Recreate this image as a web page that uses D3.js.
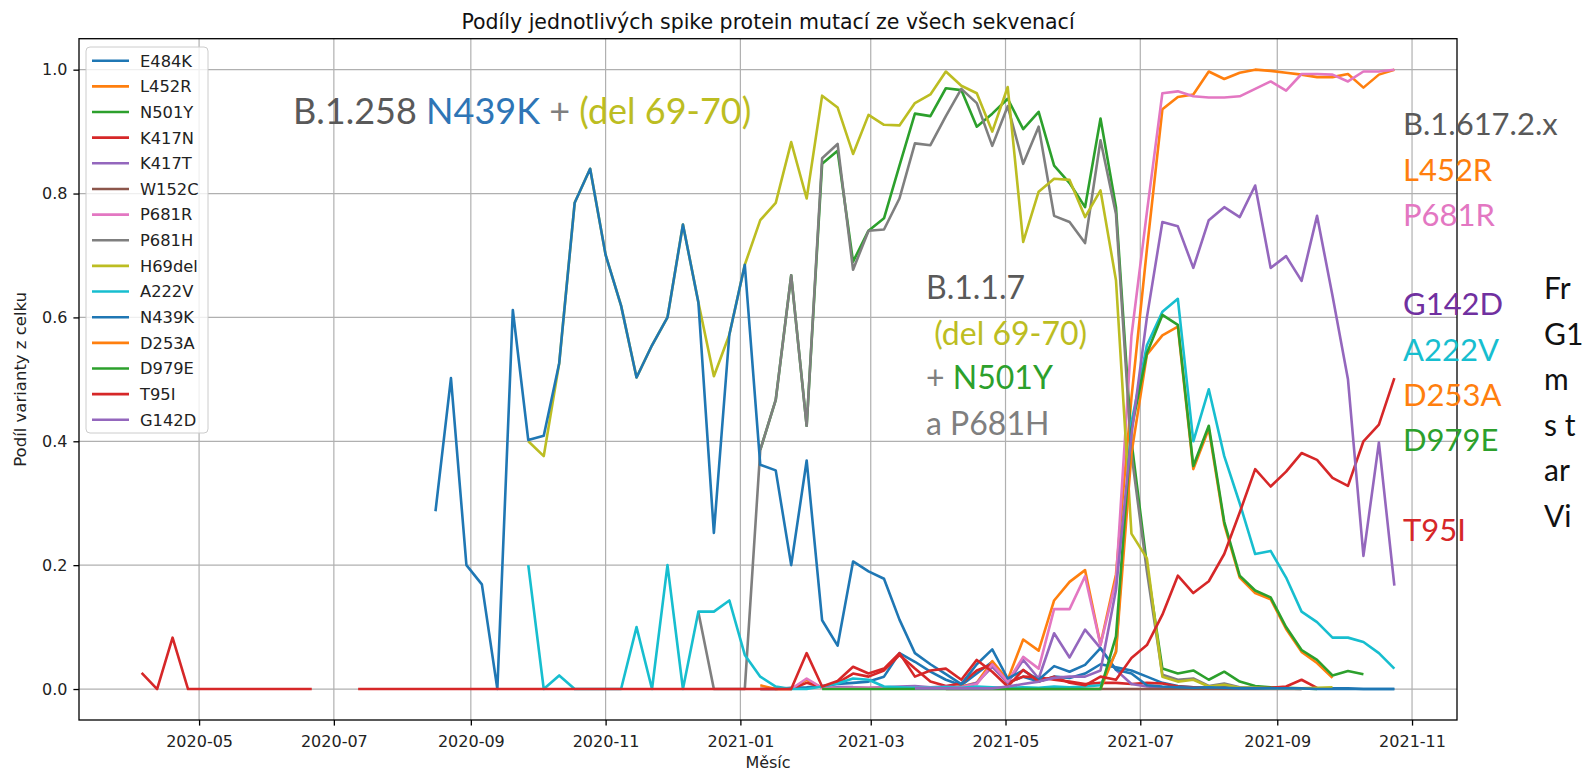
<!DOCTYPE html>
<html>
<head>
<meta charset="utf-8">
<script src="https://cdn.jsdelivr.net/npm/d3@7"></script>
<style>
  body { margin: 0; background: #fff; }
  .tick text { font-family: "DejaVu Sans", sans-serif; font-size: 16px; fill: #222; }
  .note { font-family: Lato, "Open Sans", sans-serif; }
</style>
</head>
<body>
<div id="chart"></div>
<script>
// 1. Data: weekly shares, one array per mutation (starts at the week index in startWeek)
const firstWeek = "2020-04-05";
const weekCount = 82;

const seriesNames = ["E484K", "L452R", "N501Y", "K417N", "K417T", "W152C", "P681R", "P681H",
                     "H69del", "A222V", "N439K", "D253A", "D979E", "T95I", "G142D"];
const startWeek = [40, 40, 40, 40, 44, 52, 42, 36, 25, 25, 19, 62, 44, 0, 50];

const E484K = [0, 0, 0.002, 0.003, 0.005, 0.008, 0.01, 0.012, 0.02, 0.058, 0.044, 0.028, 0.015, 0.006, 0.025, 0.044, 0.01, 0.02, 0.012, 0.02, 0.018, 0.025, 0.04, 0.035, 0.03, 0.02, 0.01, 0.005, 0.003, 0.002, 0.003, 0.002, 0.001, 0.002, 0.001, 0.001, 0.001, 0.001, 0.001, 0, 0, 0];
const L452R = [0.006, 0, 0, 0.015, 0.002, 0.001, 0.002, 0.001, 0.003, 0.002, 0.003, 0.002, 0.003, 0.004, 0.01, 0.045, 0.015, 0.08, 0.062, 0.143, 0.173, 0.192, 0.072, 0.185, 0.47, 0.71, 0.936, 0.956, 0.96, 0.997, 0.985, 0.995, 1.0, 0.998, 0.995, 0.992, 0.988, 0.988, 0.993, 0.971, 0.992, 1.0];
const N501Y = [0.386, 0.467, 0.668, 0.425, 0.848, 0.869, 0.69, 0.74, 0.76, 0.845, 0.929, 0.925, 0.97, 0.967, 0.908, 0.929, 0.953, 0.904, 0.932, 0.845, 0.817, 0.778, 0.921, 0.778, 0.40, 0.20, 0.033, 0.025, 0.03, 0.015, 0.028, 0.012, 0.005, 0.003, 0.002, 0.001, 0];
const K417N = [0, 0, 0, 0.01, 0.003, 0.01, 0.025, 0.02, 0.03, 0.055, 0.033, 0.012, 0.005, 0.009, 0.03, 0.04, 0.01, 0.02, 0.019, 0.015, 0.012, 0.008, 0.01, 0.01, 0.008, 0.01, 0.009, 0.004, 0.003, 0.002, 0.002, 0.001, 0.001, 0.002, 0.004, 0.015, 0.002];
const K417T = [0.002, 0.003, 0.003, 0.002, 0.003, 0.004, 0.005, 0.003, 0.004, 0.003, 0.01, 0.036, 0.01, 0.047, 0.017, 0.09, 0.051, 0.096, 0.066, 0.031, 0.008, 0.004, 0.002, 0.002, 0.001, 0.001, 0.001, 0.001, 0.001, 0.001, 0.001, 0.001];
const W152C = [0, 0, 0, 0, 0, 0, 0, 0, 0, 0, 0, 0, 0, 0, 0, 0, 0, 0, 0, 0, 0, 0, 0, 0];
const P681R = [0, 0.017, 0.002, 0.001, 0.002, 0.002, 0.002, 0.003, 0.002, 0.002, 0.002, 0.003, 0.008, 0.04, 0.012, 0.052, 0.033, 0.129, 0.129, 0.182, 0.071, 0.175, 0.57, 0.77, 0.962, 0.965, 0.957, 0.955, 0.955, 0.957, 0.969, 0.981, 0.966, 0.993, 0.993, 0.992, 0.981, 0.997, 0.997, 1.0];
const P681H = [0.124, 0, 0, 0, 0.386, 0.467, 0.668, 0.425, 0.857, 0.88, 0.677, 0.74, 0.742, 0.792, 0.881, 0.878, 0.925, 0.969, 0.946, 0.877, 0.941, 0.848, 0.908, 0.764, 0.754, 0.72, 0.886, 0.767, 0.38, 0.19, 0.023, 0.015, 0.017, 0.005, 0.009, 0.003, 0.002, 0.001, 0.001, 0];
const H69del = [0.40, 0.376, 0.526, 0.785, 0.84, 0.701, 0.619, 0.503, 0.555, 0.60, 0.75, 0.624, 0.505, 0.572, 0.685, 0.757, 0.785, 0.883, 0.792, 0.958, 0.939, 0.864, 0.927, 0.911, 0.91, 0.946, 0.96, 0.997, 0.974, 0.962, 0.90, 0.972, 0.722, 0.803, 0.824, 0.822, 0.762, 0.805, 0.66, 0.251, 0.211, 0.02, 0.012, 0.015, 0.004, 0.007, 0.002, 0.002, 0.001, 0.001, 0.001, 0.002, 0.003];
const A222V = [0.20, 0, 0.022, 0, 0, 0, 0, 0.10, 0, 0.20, 0, 0.125, 0.125, 0.143, 0.055, 0.02, 0.004, 0, 0, 0.004, 0.009, 0.017, 0.015, 0.004, 0.003, 0.002, 0.002, 0.003, 0.002, 0.004, 0.003, 0.002, 0.003, 0.002, 0.004, 0.003, 0.004, 0.006, 0.06, 0.43, 0.555, 0.609, 0.63, 0.40, 0.484, 0.376, 0.30, 0.218, 0.223, 0.18, 0.125, 0.108, 0.083, 0.083, 0.076, 0.058, 0.033];
const N439K = [0.287, 0.502, 0.20, 0.169, 0, 0.612, 0.402, 0.409, 0.526, 0.785, 0.84, 0.701, 0.619, 0.503, 0.555, 0.60, 0.75, 0.624, 0.252, 0.572, 0.685, 0.362, 0.353, 0.20, 0.369, 0.111, 0.07, 0.206, 0.19, 0.178, 0.112, 0.058, 0.04, 0.024, 0.008, 0.04, 0.064, 0.017, 0.03, 0.015, 0.037, 0.028, 0.039, 0.066, 0.031, 0.025, 0.006, 0.004, 0.003, 0.002, 0.003, 0.002, 0.001, 0.001, 0.001, 0.001, 0.001, 0, 0, 0, 0, 0, 0];
const D253A = [0, 0.06, 0.38, 0.54, 0.571, 0.585, 0.355, 0.42, 0.266, 0.18, 0.155, 0.145, 0.097, 0.06, 0.042, 0.018];
const D979E = [0, 0, 0, 0, 0, 0, 0, 0, 0, 0, 0, 0, 0, 0, 0, 0, 0, 0, 0, 0.085, 0.42, 0.542, 0.604, 0.588, 0.36, 0.425, 0.27, 0.183, 0.159, 0.148, 0.10, 0.063, 0.047, 0.022, 0.029, 0.024];
const T95I = [0.026, 0, 0.083, 0, 0, 0, 0, 0, 0, 0, 0, 0, null, null,
              0, 0, 0, 0, 0, 0, 0, 0, 0, 0, 0, 0, 0, 0, 0, 0, 0, 0, 0, 0, 0, 0, 0, 0, 0, 0, 0, 0, 0,
              0.058, 0.004, 0.013, 0.036, 0.025, 0.033, 0.058, 0.02, 0.03, 0.033, 0.015, 0.047, 0.028, 0.004, 0.031, 0.012, 0.02, 0.01, 0.006, 0.02, 0.015, 0.05, 0.071, 0.12, 0.183, 0.155, 0.174, 0.218, 0.285, 0.355, 0.327, 0.351, 0.381, 0.37, 0.341, 0.328, 0.40, 0.427, 0.502];
const G142D = [0.001, 0.001, 0.001, 0.001, 0.001, 0.001, 0.004, 0.008, 0.012, 0.018, 0.02, 0.02, 0.03, 0.16, 0.41, 0.60, 0.754, 0.747, 0.68, 0.757, 0.778, 0.762, 0.813, 0.68, 0.699, 0.659, 0.764, 0.635, 0.50, 0.215, 0.398, 0.167];

const seriesValues = [E484K, L452R, N501Y, K417N, K417T, W152C, P681R, P681H,
                      H69del, A222V, N439K, D253A, D979E, T95I, G142D];

const yTicks = [0, 0.2, 0.4, 0.6, 0.8, 1.0];

// 2. Build weeks and series
const weeks = d3.range(weekCount).map(i => d3.utcDay.offset(d3.utcParse("%Y-%m-%d")(firstWeek), 7 * i));
const series = seriesNames.map((name, s) => ({
    name: name,
    color: d3.schemeCategory10[s % 10],
    points: seriesValues[s].map((v, k) => ({ date: weeks[startWeek[s] + k], v: v }))
}));

// 3. Size of the plot area
const W = 1584, H = 774;
const plot = { left: 79, right: 1457, top: 38.7, bottom: 720 };

const svg = d3.select("#chart").append("svg")
    .attr("width", W)
    .attr("height", H);

// 4. Scales (matplotlib style 5% padding)
const span = weeks[weeks.length - 1] - weeks[0];
const xScale = d3.scaleUtc()
    .domain([new Date(+weeks[0] - span * 0.05), new Date(+weeks[weeks.length - 1] + span * 0.05)])
    .range([plot.left, plot.right]);

const yScale = d3.scaleLinear()
    .domain([-0.05, 1.05])
    .range([plot.bottom, plot.top]);

const monthTicks = d3.utcMonth.every(2).range(new Date(Date.UTC(2020, 4, 1)), new Date(Date.UTC(2021, 11, 1)));

// 5. Grid
svg.append("g")
    .selectAll("line")
    .data(monthTicks)
    .enter().append("line")
    .attr("x1", d => xScale(d)).attr("x2", d => xScale(d))
    .attr("y1", plot.top).attr("y2", plot.bottom)
    .attr("stroke", "#b0b0b0").attr("stroke-width", 1.2);

svg.append("g")
    .selectAll("line")
    .data(yTicks)
    .enter().append("line")
    .attr("x1", plot.left).attr("x2", plot.right)
    .attr("y1", d => yScale(d)).attr("y2", d => yScale(d))
    .attr("stroke", "#b0b0b0").attr("stroke-width", 1.2);

// 6. Lines
const line = d3.line()
    .defined(d => d.v !== null)
    .x(d => xScale(d.date))
    .y(d => yScale(d.v));

svg.append("g")
    .selectAll("path")
    .data(series)
    .enter().append("path")
    .attr("d", d => line(d.points))
    .attr("fill", "none")
    .attr("stroke", d => d.color)
    .attr("stroke-width", 2.6)
    .attr("stroke-linejoin", "round");

// 7. Axes
const xAxis = d3.axisBottom(xScale)
    .tickValues(monthTicks)
    .tickFormat(d3.utcFormat("%Y-%m"))
    .tickSize(5.6)
    .tickPadding(6);

const yAxis = d3.axisLeft(yScale)
    .tickValues(yTicks)
    .tickFormat(d3.format(".1f"))
    .tickSize(5.6)
    .tickPadding(6);

const gx = svg.append("g")
    .attr("transform", `translate(0,${plot.bottom})`)
    .call(xAxis);
const gy = svg.append("g")
    .attr("transform", `translate(${plot.left},0)`)
    .call(yAxis);
[gx, gy].forEach(g => {
    g.select(".domain").remove();
    g.selectAll(".tick line").attr("stroke", "#000").attr("stroke-width", 1.3);
});
gx.selectAll(".tick text").attr("dy", "0.95em");

// frame
svg.append("rect")
    .attr("x", plot.left).attr("y", plot.top)
    .attr("width", plot.right - plot.left).attr("height", plot.bottom - plot.top)
    .attr("fill", "none").attr("stroke", "#000").attr("stroke-width", 1.3);

// 8. Title and axis labels
svg.append("text")
    .attr("x", (plot.left + plot.right) / 2).attr("y", 29)
    .attr("text-anchor", "middle")
    .style("font-family", "DejaVu Sans").style("font-size", "20.5px").attr("fill", "#111")
    .text("Podíly jednotlivých spike protein mutací ze všech sekvenací");

svg.append("text")
    .attr("x", (plot.left + plot.right) / 2).attr("y", 768)
    .attr("text-anchor", "middle")
    .style("font-family", "DejaVu Sans").style("font-size", "16px").attr("fill", "#222")
    .text("Měsíc");

svg.append("text")
    .attr("transform", `translate(26,${(plot.top + plot.bottom) / 2}) rotate(-90)`)
    .attr("text-anchor", "middle")
    .style("font-family", "DejaVu Sans").style("font-size", "16.5px").attr("fill", "#222")
    .text("Podíl varianty z celku");

// 9. Legend
const legend = svg.append("g");
legend.append("rect")
    .attr("x", 86).attr("y", 47).attr("width", 122).attr("height", 386).attr("rx", 4)
    .attr("fill", "#fff").attr("fill-opacity", 0.8)
    .attr("stroke", "#cccccc");
const rows = legend.selectAll(".row")
    .data(series)
    .enter().append("g")
    .attr("transform", (d, i) => `translate(0,${60.7 + i * 25.65})`);
rows.append("line")
    .attr("x1", 92).attr("x2", 129)
    .attr("stroke", d => d.color).attr("stroke-width", 2.6);
rows.append("text")
    .attr("x", 140).attr("dy", "0.36em")
    .style("font-family", "DejaVu Sans").style("font-size", "16.3px").attr("fill", "#222")
    .text(d => d.name);

// 10. Slide annotations
function note(x, y, size, parts) {
    const t = svg.append("text").attr("class", "note")
        .attr("x", x).attr("y", y).style("font-size", size + "px")
        .attr("xml:space", "preserve");
    parts.forEach(p => t.append("tspan").attr("fill", p[1]).text(p[0]));
}

note(293, 124, 36, [["B.1.258 ", "#595959"], ["N439K", "#2e75b6"], [" + ", "#7f7f7f"], ["(del 69-70)", "#bcbd22"]]);

note(926, 299, 32, [["B.1.1.7", "#595959"]]);
note(926, 345, 32, [[" (del 69-70)", "#bcbd22"]]);
note(926, 389, 32, [["+ ", "#7f7f7f"], ["N501Y", "#2ca02c"]]);
note(926, 435, 32, [["a P681H", "#7f7f7f"]]);

note(1403, 135, 31, [["B.1.617.2.x", "#595959"]]);
note(1403, 181, 31, [["L452R", "#ff7f0e"]]);
note(1403, 226, 31, [["P681R", "#e377c2"]]);
note(1403, 315, 31, [["G142D", "#7030a0"]]);
note(1403, 361, 31, [["A222V", "#17becf"]]);
note(1403, 406, 31, [["D253A", "#ff7f0e"]]);
note(1403, 451, 31, [["D979E", "#2ca02c"]]);
note(1403, 541, 31, [["T95I", "#d62728"]]);

// text fragments at the right edge of the slide
const sideText = ["Fr", "G1", "m", "s t", "ar", "Vi"];
sideText.forEach((s, i) => note(1544, 299 + i * 45.5, 30, [[s, "#111"]]));
</script>
</body>
</html>
